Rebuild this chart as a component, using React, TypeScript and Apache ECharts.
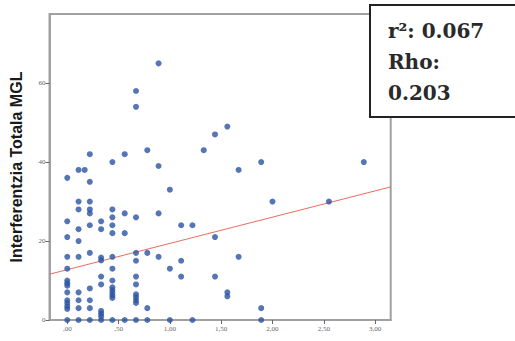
import React, { useEffect, useRef } from "react";
import * as echarts from "echarts";

// Scatter columns: one x value per column, with the y values observed at it
const columnX = [0, 0.11, 0.17, 0.22, 0.33, 0.44, 0.56, 0.67, 0.78, 0.89, 1.0, 1.11, 1.22, 1.33, 1.44, 1.56, 1.67, 1.89, 2.0, 2.55, 2.89];
const columnY = [
  [36, 25, 21, 16, 13, 10, 9.3, 8.7, 7, 5, 4.3, 3.5, 2.8, 0],
  [38, 30, 28, 23, 20, 16, 7, 5, 3, 0],
  [38],
  [42, 35, 30, 28, 27, 24, 17, 8, 5, 3, 0],
  [25, 23, 15.8, 15.1, 11, 9, 2.3, 1.6, 0.9, 0],
  [40, 28, 26, 24, 22, 16, 13, 10, 8.3, 7.6, 6.9, 6.2, 5.6, 0],
  [42, 27, 22, 0],
  [58, 54, 26, 17, 15, 11, 9, 6.5, 5.8, 5, 4.3, 0],
  [43, 17, 3, 0],
  [65, 39, 27, 16],
  [33, 13, 0],
  [24, 15, 11],
  [24, 0],
  [43],
  [47, 21, 11],
  [49, 7, 6],
  [38, 16],
  [40, 3, 0],
  [30],
  [30],
  [40],
];

// Linear fit line
const fitIntercept = 12.75;
const fitSlope = 6.65;

// Axis ranges and ticks
const xMin = -0.173;
const xMax = 3.152;
const yMin = 0;
const yMax = 77.5;
const xTicks = [0, 0.5, 1, 1.5, 2, 2.5, 3];
const yTicks = [0, 20, 40, 60];

const statLines = ["r²: 0.067", "Rho:", "0.203"];

const fmtX = (v: number) => {
  const s = v.toFixed(2).replace(".", ",");
  return s.startsWith("0") ? s.slice(1) : s;
};

export default function App() {
  const ref = useRef<HTMLDivElement>(null);

  useEffect(() => {
    if (!ref.current) return;
    const chart = echarts.init(ref.current, undefined, { renderer: "svg" });

    const points: number[][] = [];
    columnX.forEach((x, i) => columnY[i].forEach((y) => points.push([x, y])));

    const fit = [
      [xMin, fitIntercept + fitSlope * xMin],
      [xMax, fitIntercept + fitSlope * xMax],
    ];

    chart.setOption({
      animation: false,
      backgroundColor: "#ffffff",
      grid: {
        left: 49.5,
        top: 14,
        right: 124.3,
        bottom: 21,
        show: true,
        borderColor: "#a0a0a0",
        borderWidth: 2,
        backgroundColor: "transparent",
      },
      xAxis: {
        type: "value",
        min: xMin,
        max: xMax,
        splitLine: { show: false },
        axisLine: { show: true, onZero: false, lineStyle: { color: "#a0a0a0", width: 2 } },
        axisTick: {
          show: true,
          length: 4,
          customValues: xTicks,
          lineStyle: { color: "#666", width: 1 },
        },
        axisLabel: {
          customValues: xTicks,
          formatter: (v: number) => fmtX(v),
          fontSize: 7,
          color: "#666",
          margin: 5,
          fontFamily: "Liberation Serif",
        },
      },
      yAxis: {
        type: "value",
        min: yMin,
        max: yMax,
        name: "Interferentzia Totala MGL",
        nameLocation: "middle",
        nameGap: 25,
        nameTextStyle: {
          fontFamily: "Liberation Sans",
          fontWeight: "bold",
          fontSize: 16,
          color: "#1a1a1a",
        },
        splitLine: { show: false },
        axisLine: { show: true, onZero: false, lineStyle: { color: "#a0a0a0", width: 2 } },
        axisTick: {
          show: true,
          length: 4,
          customValues: yTicks,
          lineStyle: { color: "#666", width: 1 },
        },
        axisLabel: {
          customValues: yTicks,
          fontSize: 7,
          color: "#666",
          margin: 4,
          fontFamily: "Liberation Serif",
        },
      },
      series: [
        {
          type: "line",
          data: fit,
          symbol: "none",
          lineStyle: { color: "#ec6b5e", width: 1 },
          z: 2,
        },
        {
          type: "scatter",
          data: points,
          symbolSize: 6,
          itemStyle: { color: "#2a52a2" },
          z: 3,
        },
      ],
      graphic: [
        {
          type: "rect",
          shape: { x: 370, y: 5, width: 160, height: 112 },
          style: { fill: "#ffffff", stroke: "#222222", lineWidth: 2 },
          z: 10,
        },
        ...statLines.map((t, i) => ({
          type: "text",
          x: 388,
          y: 21 + i * 31,
          style: {
            text: t,
            fontFamily: "DejaVu Serif",
            fontWeight: "bold",
            fontSize: 20,
            fill: "#2a2a2a",
          },
          z: 11,
        })),
      ],
    });

    return () => chart.dispose();
  }, []);

  return <div ref={ref} style={{ width: 515, height: 341, position: "absolute", left: 0, top: 0 }} />;
}
